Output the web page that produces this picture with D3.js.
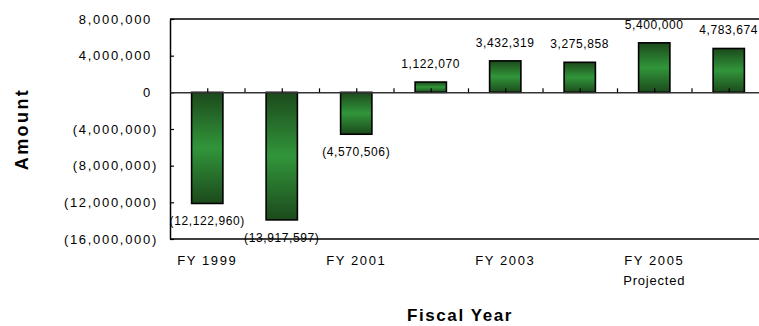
<!DOCTYPE html>
<html>
<head>
<meta charset="utf-8">
<script src="https://cdn.jsdelivr.net/npm/d3@7"></script>
<style>
  body { margin: 0; background: #fff; }
  svg text { font-family: "Liberation Sans", Arial, sans-serif; fill: #000; }
</style>
</head>
<body>
<div id="chart"></div>
<script>
// data
var years = ["FY 1999", "FY 2000", "FY 2001", "FY 2002", "FY 2003", "FY 2004", "FY 2005", "FY 2006"];
var amounts = [-12122960, -13917597, -4570506, 1122070, 3432319, 3275858, 5400000, 4783674];
var shownLabels = ["FY 1999", "", "FY 2001", "", "FY 2003", "", "FY 2005", ""];
var subLabels = ["", "", "", "", "", "", "Projected", ""];
var yTicks = [8000000, 4000000, 0, -4000000, -8000000, -12000000, -16000000];

var width = 759, height = 326;
var plotLeft = 170, plotRight = 766, plotTop = 19, plotBottom = 239;

var svg = d3.select("#chart").append("svg").attr("width", width).attr("height", height);

var defs = svg.append("defs");
var grad = defs.append("linearGradient").attr("id", "barGrad")
    .attr("x1", 0).attr("y1", 0).attr("x2", 0).attr("y2", 1);
grad.append("stop").attr("offset", "0%").attr("stop-color", "#1c4a1c");
grad.append("stop").attr("offset", "50%").attr("stop-color", "#31953a");
grad.append("stop").attr("offset", "100%").attr("stop-color", "#1c4a1c");

var x = d3.scaleBand().domain(years).range([plotLeft, plotRight]).paddingInner(0.58).paddingOuter(0.29);
var y = d3.scaleLinear().domain([-16000000, 8000000]).range([plotBottom, plotTop]);

function fmt(d) {
    return d < 0 ? "(" + d3.format(",")(-d) + ")" : d3.format(",")(d);
}

// top border line
svg.append("line").attr("x1", plotLeft).attr("x2", width).attr("y1", plotTop).attr("y2", plotTop)
    .attr("stroke", "#000").attr("stroke-width", 1.5);
// bottom line
svg.append("line").attr("x1", plotLeft).attr("x2", width).attr("y1", plotBottom).attr("y2", plotBottom)
    .attr("stroke", "#000").attr("stroke-width", 1.5);

// y axis
var yAxis = svg.append("g").attr("transform", "translate(" + plotLeft + ",0)")
    .call(d3.axisLeft(y).tickValues(yTicks).tickSize(-4).tickPadding(14).tickSizeOuter(0).tickFormat(fmt));
yAxis.select(".domain").attr("stroke", "#000").attr("stroke-width", 1.5);
yAxis.selectAll(".tick line").attr("stroke", "#000").attr("stroke-width", 1.2);
yAxis.selectAll(".tick text")
    .style("font-size", "13px").style("letter-spacing", "1.7px")
    .attr("x", function(d) { return d < 0 ? -12 : -18; });

// bars
svg.selectAll(".bar").data(amounts).enter().append("rect").attr("class", "bar")
    .attr("x", function(d, i) { return x(years[i]); })
    .attr("width", x.bandwidth())
    .attr("y", function(d) { return y(Math.max(0, d)); })
    .attr("height", function(d) { return Math.abs(y(d) - y(0)); })
    .attr("fill", "url(#barGrad)")
    .attr("stroke", "#000").attr("stroke-width", 1.6);

// zero line with small category ticks
var pos = d3.scaleLinear().domain([0, years.length]).range([plotLeft, plotRight]);
var zeroAxis = svg.append("g").attr("transform", "translate(0," + y(0) + ")")
    .call(d3.axisTop(pos).tickValues(d3.range(0.5, years.length + 0.01, 0.5)).tickSize(4).tickSizeOuter(0).tickFormat(""));
zeroAxis.select(".domain").attr("stroke", "#333").attr("stroke-width", 1.5);
zeroAxis.selectAll(".tick line").attr("stroke", "#000").attr("stroke-width", 1.2);

// data labels
svg.selectAll(".val").data(amounts).enter().append("text").attr("class", "val")
    .attr("x", function(d, i) { return x(years[i]) + x.bandwidth() / 2; })
    .attr("y", function(d) { return d < 0 ? y(d) + 22 : y(d) - 14; })
    .attr("text-anchor", "middle")
    .style("font-size", "12px").style("letter-spacing", "0.6px")
    .text(fmt);

// category labels
svg.selectAll(".cat").data(shownLabels).enter().append("text").attr("class", "cat")
    .attr("x", function(d, i) { return x(years[i]) + x.bandwidth() / 2; })
    .attr("y", 265)
    .attr("text-anchor", "middle")
    .style("font-size", "13px").style("letter-spacing", "1.6px")
    .text(function(d) { return d; });
svg.selectAll(".sub").data(subLabels).enter().append("text").attr("class", "sub")
    .attr("x", function(d, i) { return x(years[i]) + x.bandwidth() / 2; })
    .attr("y", 285)
    .attr("text-anchor", "middle")
    .style("font-size", "13px").style("letter-spacing", "0.8px")
    .text(function(d) { return d; });

// axis titles
svg.append("text").attr("x", 460).attr("y", 321).attr("text-anchor", "middle")
    .style("font-size", "17px").style("font-weight", "bold").style("letter-spacing", "1.6px")
    .text("Fiscal Year");
svg.append("text").attr("transform", "translate(28,129)rotate(-90)").attr("text-anchor", "middle")
    .style("font-size", "18px").style("font-weight", "bold").style("letter-spacing", "2.4px")
    .text("Amount");
</script>
</body>
</html>
